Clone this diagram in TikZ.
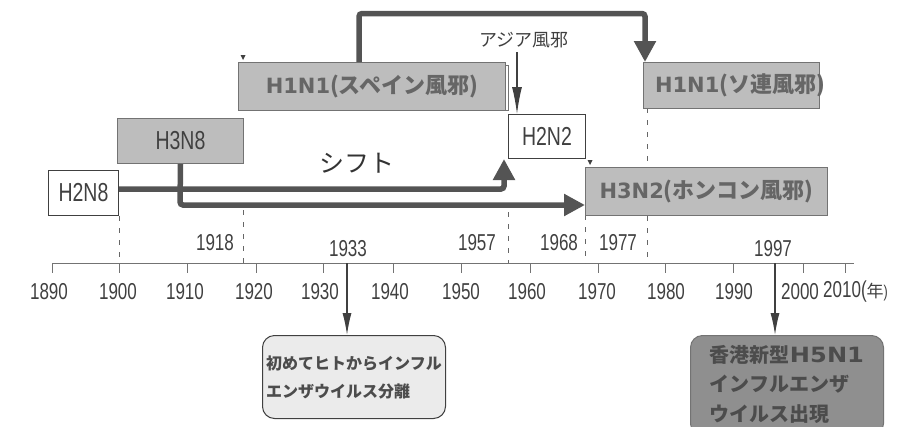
\documentclass[tikz,border=0pt]{standalone}
\usepackage{fontspec}
\setmainfont{Liberation Sans}
\newfontfamily\jp{Noto Sans CJK JP}
\newfontfamily\latb{DejaVu Sans}
\newfontfamily\latw{DejaVu Sans}[FakeStretch=1.15]
\newfontfamily\numf{Liberation Sans}[FakeStretch=0.74]
\newfontfamily\labf{Liberation Sans}[FakeStretch=0.75]
\usetikzlibrary{arrows.meta}
\definecolor{boxgray}{gray}{0.74}
\definecolor{boxedge}{gray}{0.45}
\definecolor{txtgray}{gray}{0.40}
\definecolor{arrgray}{gray}{0.33}
\definecolor{darkgray}{gray}{0.25}
\definecolor{lightbox}{gray}{0.92}
\definecolor{midbox}{gray}{0.56}
\definecolor{notetext}{gray}{0.30}
\newcommand\HN[1]{{\latb\bfseries\fontsize{21}{26}\selectfont #1}}
\newcommand\JB[1]{{\jp\bfseries #1}}
\tikzset{
  graybox/.style={draw=boxedge, fill=boxgray, line width=1pt, inner sep=0pt, anchor=north west,
    text=txtgray, font=\fontsize{22}{26}\selectfont},
  whitebox/.style={draw=darkgray, fill=white, line width=1pt, inner sep=0pt, anchor=north west,
    text=darkgray, font=\labf\fontsize{26}{30}\selectfont},
  bigarrow/.style={draw=arrgray, line width=5.5pt, rounded corners=3pt,
    -{Triangle[length=21pt,width=21pt]}},
  thinarrow/.style={draw=darkgray, line width=1.2pt, -{Latex[length=22pt,width=9pt]}},
  dropline/.style={draw=darkgray!80, line width=0.8pt, dash pattern=on 5pt off 7pt},
  axisline/.style={draw=boxedge, line width=1pt},
  ticklab/.style={text=darkgray, font=\numf\fontsize{23}{26}\selectfont},
  yearlab/.style={text=darkgray, font=\numf\fontsize{23}{26}\selectfont},
  notebox/.style={draw=darkgray, line width=1pt, rounded corners=12pt, inner sep=0pt, anchor=north west}
}
\begin{document}
\begin{tikzpicture}[x=1pt,y=-1pt]
\useasboundingbox (0,0) rectangle (916,426);
\clip (0,0) rectangle (916,426);

% axis
\coordinate (a0) at (52,263);
\coordinate (a1) at (854,263);
\draw[axisline] (a0) -- (a1);
\foreach \x in {52,119,187,256,323,393,461,530,598,665,733,803,845}
  \draw[axisline] (\x,263) -- (\x,273);
\foreach \x/\t in {49/1890,118/1900,185/1910,254/1920,320/1930,390/1940,461/1950,527/1960,597/1970,666/1980,734/1990,800/2000}
  \node[ticklab] (t\t) at (\x,292) {\t};
\node[ticklab, anchor=west, inner sep=0pt] (t2010) at (823,292) {2010(\jp\fontsize{17}{20}\selectfont 年\numf)};

% year labels
\node[yearlab] (y1918) at (215,243) {1918};
\node[yearlab] (y1933) at (348,249) {1933};
\node[yearlab] (y1957) at (477,243) {1957};
\node[yearlab] (y1968) at (559,243) {1968};
\node[yearlab] (y1977) at (618,243) {1977};
\node[yearlab] (y1997) at (773,249) {1997};

% boxes
\node[whitebox, minimum width=70pt, minimum height=45pt] (h2n8) at (48,170) {H2N8};
\node[graybox, text=darkgray, font=\labf\fontsize{26}{30}\selectfont, minimum width=126pt, minimum height=45pt] (h3n8) at (117,118) {H3N8};
\node[whitebox, minimum width=77pt, minimum height=44pt] (h2n2) at (508,114) {H2N2};

% drop lines
\coordinate (d1918) at (243,210);
\coordinate (d1957) at (508,212);
\draw[dropline] (h2n8.south east) -- (h2n8.south east |- a0);
\draw[dropline] (d1918) -- (d1918 |- a0);
\draw[dropline] (d1957) -- (d1957 |- a0);
\coordinate (d1977) at (647,108);
\draw[dropline] (d1977) -- (d1977 |- a0);
\draw[dropline] (585,215) -- (585,263);

\draw[boxedge, line width=1pt] (505,65) -- (508,65) -- (508,110) -- (505,110);
\node[graybox, minimum width=267pt, minimum height=48pt] (spain) at (238,62) {\HN{H1N1}\JB{(スペイン風邪)}};
\node[graybox, minimum width=176pt, minimum height=46pt] (ussr) at (643,62) {};
\node[text=txtgray, font=\fontsize{22}{26}\selectfont, inner sep=0pt] (ussrlab) at (740,85) {\HN{H1N1}\JB{(ソ連風邪)}};
\node[graybox, minimum width=242pt, minimum height=48pt] (h3n2) at (585,167) {\HN{H3N2}\JB{(ホンコン風邪)}};

\fill[darkgray] (240.5,55) -- (245.5,55) -- (243,60) -- cycle;
\fill[darkgray] (587.5,160) -- (592.5,160) -- (590,165) -- cycle;

% note boxes
\node[notebox, fill=lightbox, minimum width=183pt, minimum height=83pt, align=left,
  text=notetext, font=\jp\bfseries\fontsize{16}{28}\selectfont] (n1933) at (262,335)
  {初めてヒトからインフル\\エンザウイルス分離};
\node[notebox, fill=midbox, draw=boxedge, minimum width=193pt, minimum height=100pt, align=left,
  text=notetext, font=\jp\bfseries\fontsize{20}{29.5}\selectfont, anchor=north west] (n1997) at (690,335)
  {香港新型{\latw\bfseries\fontsize{21}{29.5}\selectfont H5N1}\\インフルエンザ\\ウイルス出現\vphantom{y}};

% labels
\node[text=darkgray!80!black, font=\jp\fontsize{25}{30}\selectfont] (shift) at (357,163) {シフト};
\node[text=darkgray, font=\jp\fontsize{18}{22}\selectfont] (asia) at (524,40) {アジア風邪};

% big arrows
\coordinate (top1) at (359,13.5);
\coordinate (top2) at (645,13.5);
\draw[bigarrow] (top1 |- spain.north) -- (top1) -- (top2) -- (top2 |- ussr.north);
\coordinate (c1) at (504,189);
\draw[bigarrow] (h2n8.east |- c1) -- (c1) -- (c1 |- h2n2.south);
\coordinate (c2) at (180,205);
\draw[bigarrow] (h3n8.south) -- (c2) -- (c2 -| h3n2.west);

% thin arrows
\coordinate (asiaend) at (517,52);
\draw[thinarrow, -{Latex[length=27pt,width=10pt]}] (asiaend) -- (asiaend |- h2n2.north);
\coordinate (p1933) at (347,263);
\draw[thinarrow] (p1933) -- (p1933 |- n1933.north);
\coordinate (p1997) at (775,263);
\draw[thinarrow] (p1997) -- (p1997 |- n1997.north);
\end{tikzpicture}
\end{document}
